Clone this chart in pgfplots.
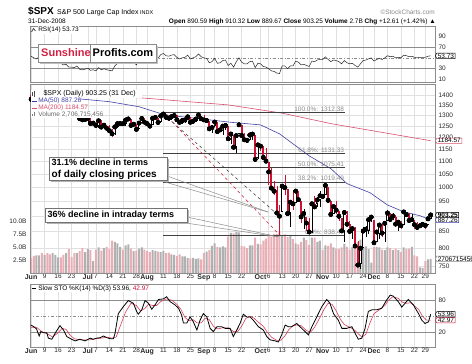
\documentclass[border=0pt]{standalone}
\usepackage{pgfplots}
\pgfplotsset{compat=1.18}
\usepackage{pgfplotstable}
\usepackage{fontspec}
\setmainfont{Liberation Sans}
\usetikzlibrary{shapes.symbols}

\definecolor{gridc}{HTML}{E0E0E0}
\definecolor{framec}{HTML}{8C8C8C}
\definecolor{candred}{HTML}{CC1133}
\definecolor{volred}{HTML}{E9AEB6}
\definecolor{volgrey}{HTML}{B0B0B0}
\definecolor{mablue}{HTML}{4040A8}
\definecolor{mared}{HTML}{D8506E}
\definecolor{sunred}{HTML}{D42042}
\definecolor{labgrey}{HTML}{8A8A8A}

\pgfplotstableread[row sep=\\]{
i o h l c v\\
0 1399.6 1399.6 1373.4 1377.7 2.9\\
1 1377.7 1387.6 1366.6 1377.2 3.3\\
2 1376.3 1388.2 1371.7 1377.2 3.4\\
3 1377.5 1405.1 1373.1 1404.1 3.4\\
4 1400.1 1400.1 1359.9 1360.7 3.8\\
5 1360.8 1366.8 1351.5 1361.8 3.5\\
6 1361.8 1370.6 1350.7 1358.4 3.8\\
7 1357.1 1357.1 1335.5 1335.5 3.6\\
8 1335.8 1353.0 1331.3 1339.9 3.8\\
9 1341.8 1360.0 1341.7 1360.0 3.5\\
10 1358.9 1370.7 1355.1 1360.1 3.0\\
11 1360.7 1366.6 1350.5 1350.9 3.0\\
12 1350.9 1351.0 1333.4 1337.8 3.5\\
13 1336.9 1347.1 1330.4 1342.8 3.8\\
14 1341.0 1341.0 1314.5 1317.9 4.6\\
15 1319.8 1323.8 1315.6 1318.0 3.1\\
16 1317.2 1328.9 1310.0 1314.3 3.8\\
17 1314.5 1335.6 1314.5 1322.0 3.8\\
18 1321.4 1321.4 1283.1 1283.2 4.2\\
19 1283.6 1290.3 1272.0 1278.4 4.8\\
20 1279.0 1290.7 1274.3 1280.0 4.0\\
21 1279.0 1285.3 1260.7 1284.9 4.6\\
22 1285.0 1285.7 1260.7 1261.5 4.4\\
23 1262.5 1272.0 1252.0 1262.9 2.3\\
24 1262.9 1273.9 1240.7 1252.3 4.5\\
25 1251.8 1274.2 1242.8 1273.7 4.9\\
26 1273.3 1277.4 1244.6 1244.7 4.3\\
27 1245.3 1257.6 1236.8 1253.4 4.8\\
28 1248.7 1254.0 1225.4 1239.5 5.0\\
29 1241.6 1253.5 1225.0 1228.3 4.6\\
30 1226.8 1234.4 1200.4 1214.9 6.2\\
31 1214.6 1246.0 1211.4 1245.4 6.0\\
32 1246.3 1262.3 1241.4 1260.3 5.7\\
33 1258.2 1262.2 1251.8 1260.7 5.0\\
34 1261.8 1267.7 1255.9 1260.0 4.5\\
35 1257.1 1277.4 1248.8 1277.0 5.3\\
36 1278.9 1291.2 1276.1 1282.2 5.5\\
37 1283.2 1283.2 1251.5 1252.5 4.7\\
38 1253.5 1263.2 1251.8 1257.8 4.2\\
39 1257.8 1260.1 1234.4 1234.4 4.3\\
40 1236.4 1264.4 1236.4 1263.2 4.7\\
41 1264.5 1284.3 1264.5 1284.3 4.9\\
42 1281.4 1284.9 1265.4 1267.4 4.5\\
43 1269.0 1270.5 1254.5 1260.3 4.2\\
44 1253.3 1260.5 1247.5 1249.0 4.0\\
45 1254.9 1284.9 1254.7 1284.9 4.4\\
46 1283.9 1291.7 1276.0 1289.2 4.2\\
47 1286.5 1286.5 1264.3 1266.1 4.1\\
48 1266.3 1297.9 1262.1 1296.3 4.0\\
49 1294.4 1313.2 1294.4 1305.3 4.2\\
50 1304.8 1304.8 1285.6 1289.6 3.8\\
51 1288.6 1294.0 1274.9 1285.8 3.9\\
52 1282.1 1300.1 1276.8 1292.9 3.6\\
53 1293.9 1302.1 1290.7 1298.2 3.5\\
54 1298.1 1300.2 1274.5 1278.6 3.3\\
55 1276.7 1276.7 1261.2 1266.7 3.6\\
56 1267.3 1276.0 1261.2 1274.5 3.2\\
57 1271.1 1281.3 1265.2 1277.7 3.2\\
58 1277.6 1293.1 1277.6 1292.2 2.9\\
59 1290.5 1290.5 1264.9 1266.8 2.8\\
60 1267.0 1275.7 1263.2 1271.5 2.9\\
61 1271.3 1289.6 1270.0 1281.7 2.7\\
62 1283.8 1300.7 1283.8 1300.7 2.8\\
63 1296.5 1297.6 1282.7 1282.8 2.6\\
64 1287.8 1303.0 1272.2 1277.6 3.8\\
65 1275.0 1280.6 1265.6 1275.0 4.1\\
66 1271.8 1271.8 1232.8 1236.8 4.4\\
67 1233.2 1244.9 1217.2 1242.3 5.2\\
68 1249.5 1274.4 1247.1 1267.8 5.7\\
69 1267.0 1268.7 1224.5 1224.5 5.0\\
70 1227.5 1243.9 1221.6 1232.0 4.9\\
71 1229.0 1249.0 1211.5 1249.1 5.1\\
72 1245.9 1255.1 1233.8 1251.7 4.9\\
73 1250.9 1250.9 1192.7 1192.7 7.0\\
74 1188.3 1214.8 1169.3 1213.6 7.7\\
75 1210.3 1210.3 1155.9 1156.4 7.6\\
76 1157.1 1211.6 1133.5 1206.5 7.9\\
77 1213.1 1265.3 1213.1 1255.1 7.8\\
78 1255.4 1255.5 1205.6 1207.1 5.2\\
79 1207.6 1219.4 1187.1 1188.2 5.1\\
80 1188.8 1197.4 1179.8 1185.9 4.8\\
81 1187.9 1221.0 1187.9 1209.2 5.3\\
82 1204.5 1215.8 1187.5 1213.3 5.3\\
83 1209.1 1209.1 1106.4 1106.4 6.8\\
84 1113.8 1167.0 1106.5 1166.4 5.6\\
85 1164.2 1167.0 1140.8 1161.1 5.5\\
86 1160.6 1160.6 1111.4 1114.3 6.2\\
87 1115.2 1153.8 1098.1 1099.2 6.6\\
88 1097.6 1097.6 1007.9 1056.9 7.4\\
89 1057.6 1072.9 996.2 996.2 7.0\\
90 988.9 1021.1 970.4 984.9 7.5\\
91 988.4 1005.3 909.2 909.9 7.5\\
92 902.3 936.4 839.8 899.2 7.9\\
93 912.8 1006.9 912.8 1003.4 7.2\\
94 1009.0 1044.3 972.1 998.0 7.4\\
95 994.6 994.6 904.0 907.8 6.9\\
96 909.5 947.7 865.8 946.4 7.3\\
97 942.3 984.6 918.7 940.6 6.5\\
98 943.5 985.4 943.5 985.4 5.7\\
99 980.4 985.4 952.5 955.1 5.5\\
100 951.7 951.7 875.8 896.8 6.0\\
101 899.1 922.8 858.4 908.1 6.8\\
102 895.2 896.3 852.9 876.8 6.3\\
103 874.3 893.8 846.8 848.9 5.4\\
104 848.9 940.5 845.3 940.5 6.8\\
105 939.5 969.9 922.3 930.1 6.8\\
106 939.4 963.2 928.5 954.1 6.0\\
107 953.1 984.4 928.5 968.8 6.2\\
108 968.7 975.5 958.8 966.3 4.4\\
109 971.3 1007.5 971.3 1005.8 5.3\\
110 1001.8 1001.8 949.9 952.8 5.2\\
111 952.4 952.4 899.7 904.9 5.7\\
112 907.4 931.5 906.9 931.0 4.9\\
113 936.8 951.9 907.5 919.2 4.7\\
114 917.2 917.2 884.9 899.0 4.6\\
115 893.4 893.4 850.5 852.3 4.9\\
116 853.1 913.0 818.7 911.3 5.6\\
117 904.4 916.9 869.9 873.3 5.0\\
118 873.2 882.3 849.0 850.8 4.5\\
119 852.3 865.9 826.8 859.1 5.0\\
120 859.0 864.6 806.2 806.6 5.3\\
121 805.9 820.5 747.8 752.4 6.0\\
122 755.8 801.2 741.0 800.0 6.4\\
123 801.2 865.6 801.2 851.8 5.1\\
124 853.4 868.9 835.0 857.4 5.1\\
125 852.9 887.7 841.4 887.7 4.6\\
126 886.9 896.3 881.2 896.2 2.0\\
127 888.6 888.6 815.7 816.2 5.0\\
128 817.9 850.5 817.9 848.8 5.0\\
129 843.6 873.1 827.6 870.7 4.9\\
130 869.1 875.6 833.6 845.2 4.5\\
131 844.4 879.4 818.4 876.1 4.4\\
132 882.7 918.6 882.7 909.7 4.9\\
133 909.1 911.5 883.0 888.7 4.8\\
134 892.2 908.3 885.5 899.2 4.4\\
135 898.4 904.6 868.7 873.6 4.7\\
136 871.8 883.2 851.4 879.7 4.4\\
137 881.1 884.6 857.7 868.6 4.0\\
138 871.5 914.7 871.5 913.2 4.9\\
139 908.2 908.2 895.9 904.4 4.6\\
140 905.0 911.0 877.4 885.3 4.7\\
141 886.9 905.5 883.0 887.9 5.0\\
142 887.2 887.4 857.1 871.6 3.4\\
143 874.3 880.4 860.1 863.2 3.2\\
144 863.9 869.8 861.4 868.2 1.1\\
145 869.5 873.7 866.5 872.8 1.0\\
146 872.4 873.7 857.1 869.4 2.3\\
147 870.6 891.1 870.6 890.6 2.6\\
148 890.6 910.3 889.7 903.3 2.7\\
}\ohlc

\pgfplotstableread[row sep=\\]{
i p\\ 0 1405\\ 41 1385\\ 73 1350\\ 93 1310\\ 111 1261\\ 148 1184.57\\
}\matwo

\pgfplotstableread[row sep=\\]{
i p\\ 0 1375\\ 18 1380\\ 29 1366\\ 40 1341\\ 48 1308\\ 51 1300\\ 74 1267\\ 85 1255\\ 92 1215\\ 103 1121\\ 111 1070\\ 117 1013\\ 125.5 980\\ 132 937\\ 138 914\\ 144 901\\ 148 887.26\\
}\mafifty

\pgfplotstableread[row sep=\\]{
i r\\ 0 53\\ 1 50\\ 2 48\\ 3 52\\ 4 45\\ 5 45\\ 6 44\\ 7 39\\ 8 41\\ 9 44\\ 10 43\\ 11 40\\ 12 37\\ 13 38\\ 14 33\\ 15 33\\ 16 32\\ 17 35\\ 18 29\\ 19 28\\ 20 29\\
21 31\\ 22 27\\ 23 28\\ 24 26\\ 25 32\\ 26 28\\ 27 30\\ 28 28\\ 29 27\\ 30 26\\ 31 35\\ 32 40\\ 33 40\\ 34 40\\ 35 45\\ 36 47\\ 37 40\\ 38 42\\ 39 37\\ 40 45\\ 41 50\\ 42 46\\
43 44\\ 44 42\\ 45 52\\ 46 54\\ 47 49\\ 48 56\\ 49 58\\ 50 54\\ 51 53\\ 52 55\\ 53 56\\ 54 51\\ 55 48\\ 56 50\\ 57 51\\ 58 55\\ 59 48\\ 60 50\\ 61 52\\ 62 57\\ 63 52\\
64 50\\ 65 49\\ 66 41\\ 67 43\\ 68 49\\ 69 40\\ 70 41\\ 71 45\\ 72 46\\ 73 36\\ 74 40\\ 75 33\\ 76 43\\ 77 50\\ 78 42\\ 79 39\\ 80 39\\ 81 43\\ 82 44\\ 83 32\\ 84 40\\
85 39\\ 86 34\\ 87 33\\ 88 30\\ 89 26\\ 90 25\\ 91 22\\ 92 21\\ 93 35\\ 94 35\\ 95 30\\ 96 35\\ 97 35\\ 98 44\\ 99 42\\ 100 37\\ 101 38\\ 102 36\\ 103 34\\ 104 44\\ 105 43\\ 106 46\\ 107 47\\
108 47\\ 109 52\\ 110 47\\ 111 43\\ 112 46\\ 113 45\\ 114 43\\ 115 39\\ 116 45\\ 117 41\\ 118 39\\ 119 40\\ 120 36\\ 121 33\\ 122 39\\ 123 45\\ 124 46\\ 125 48\\ 126 50\\
127 44\\ 128 47\\ 129 49\\ 130 47\\ 131 50\\ 132 54\\ 133 52\\ 134 53\\ 135 50\\ 136 51\\ 137 50\\ 138 55\\ 139 54\\ 140 52\\ 141 53\\ 142 51\\ 143 50\\ 144 51\\ 145 51\\ 146 51\\ 147 53\\ 148 53.73\\
}\rsi

\pgfplotstableread[row sep=\\]{
i k\\ 0 34\\ 1 31\\ 2 27\\ 3 14\\ 3.6 22\\ 4.6 20\\ 5.8 20\\ 6.4 10\\ 7.7 8\\ 8.9 19\\ 10.7 33\\ 12 25\\ 13.2 13\\ 15 8\\ 16.3 5\\ 18.1 8\\ 20 5\\ 21.9 10\\ 23 8\\ 24.3 10\\ 25.6 11\\ 26.8 14\\ 28 11\\ 29.3 9\\ 30.5 9\\ 31.1 19\\ 32.3 55\\ 34.2 68\\ 36 79\\ 37.9 74\\ 39.1 59\\ 39.7 54\\ 41 62\\ 42.2 79\\ 43.5 74\\ 44.7 63\\ 45.9 71\\ 47.2 81\\ 49 82\\ 50.2 86\\ 51.5 77\\ 53.3 71\\ 54.6 65\\ 55.8 52\\ 56.4 38\\ 57.7 38\\ 58.9 49\\ 60.1 40\\ 61.4 25\\ 62.6 43\\ 63.8 55\\ 65.1 49\\ 66.3 28\\ 67.5 22\\ 68.8 31\\ 70.6 31\\ 71.9 28\\ 73.7 28\\ 74.9 13\\ 76.2 25\\ 77.4 37\\ 78.6 54\\ 79.9 49\\ 81.1 49\\ 82.3 43\\ 84.2 31\\ 86 25\\ 87.3 13\\ 88.5 7\\ 90.4 5\\ 91.6 3\\ 92.8 16\\ 94.1 34\\ 95.3 31\\ 96.5 31\\ 98.4 37\\ 99.6 31\\ 101.5 22\\ 102.7 16\\ 104 31\\ 105.8 49\\ 107.7 68\\ 109.5 81\\ 110.7 74\\ 112 55\\ 113.8 43\\ 115.1 28\\ 116.9 28\\ 118.8 31\\ 120 19\\ 121.2 8\\ 122.5 10\\ 123.7 28\\ 124.9 59\\ 126.2 62\\ 128 62\\ 129.9 65\\ 131.7 80\\ 133 89\\ 134.2 87\\ 136 77\\ 137.3 67\\ 138.5 74\\ 139.7 81\\ 141.6 71\\ 143.5 55\\ 144.7 43\\ 145.9 37\\ 147.2 40\\ 148 53.96\\
}\stok

\pgfplotstableread[row sep=\\]{
i d\\ 0 30\\ 2 30\\ 4 22\\ 6 18\\ 8 12\\ 10 20\\ 11.5 28\\ 13 26\\ 14.5 15\\ 16 9\\ 18 7\\ 20 7\\ 22 7\\ 24 9\\ 26 10\\ 28 12\\ 30 10\\ 31.5 12\\ 33 32\\ 35 58\\ 37 74\\ 39 70\\ 40.5 60\\ 42 64\\ 43.5 72\\ 45 70\\ 46.5 70\\ 48 77\\ 50 82\\ 52 80\\ 54 72\\ 55.5 63\\ 57 48\\ 58.5 42\\ 60 44\\ 61.5 38\\ 63 38\\ 64.5 47\\ 66 44\\ 67.5 32\\ 69 27\\ 71 29\\ 73 29\\ 75 22\\ 76.5 22\\ 78 32\\ 79.5 46\\ 81 50\\ 82.5 47\\ 84 40\\ 86 32\\ 87.5 21\\ 89 12\\ 91 6\\ 92.5 6\\ 94 14\\ 95.5 26\\ 97 33\\ 98.5 34\\ 100 33\\ 102 24\\ 103.5 21\\ 105 30\\ 107 48\\ 108.5 63\\ 110 74\\ 111.5 72\\ 113 60\\ 114.5 45\\ 116 35\\ 118 30\\ 119.5 26\\ 121 19\\ 122.5 12\\ 124 17\\ 125.5 38\\ 127 55\\ 129 62\\ 131 70\\ 132.5 80\\ 134 86\\ 136 83\\ 137.5 76\\ 139 74\\ 140.5 75\\ 142 69\\ 143.5 63\\ 145 50\\ 146.5 43\\ 148 42.97\\
}\stod

\newcommand{\tl}{\fontsize{6.5}{7}\selectfont}
\newcommand{\mo}[1]{\fontsize{7}{7}\selectfont\bfseries #1}

\pgfplotsset{
  panel/.style={
    scale only axis, width=405pt, xmin=-0.4, xmax=149.6,
    anchor=south west,
    axis line style={draw=framec, line width=0.5pt},
    major tick length=0pt,
    ticklabel style={font=\tl, text=black!85},
    /pgf/number format/assume math mode=true,
    xtick={0,5,10,15,21,24,29,34,39,43,49,54,59,64,68,73,78,85,88,93,98,103,108,113,118,123,127,132,137,142,146},
    grid style={draw=gridc, line width=0.4pt},
  },
  datelabels/.style={
    xticklabels={\mo{Jun},9,16,23,\mo{Jul},7,14,21,28,\mo{Aug},11,18,25,\mo{Sep},8,15,22,\mo{Oct},6,13,20,27,\mo{Nov},10,17,24,\mo{Dec},8,15,22,29},
    xticklabel style={inner sep=1pt},
  },
  pricey/.style={ymin=6.59441, ymax=7.28414},
}
\tikzset{
  tag/.style={signal, signal to=west, signal pointer angle=120, draw, fill=white,
    inner xsep=1pt, inner ysep=0.4pt, font=\tl, anchor=west, line width=0.5pt},
}

\begin{document}
\begin{tikzpicture}
\path[use as bounding box] (0pt,0pt) rectangle (472pt,364pt);

% ---------------- RSI panel
\begin{axis}[panel, at={(30pt,282pt)}, height=56pt, ymin=5.5, ymax=108.7,
  xmajorgrids, xticklabels={}, ytick={10,30,70,90}, yticklabel pos=right]
\addplot[framec, line width=0.5pt] coordinates {(-1,70) (151,70)};
\addplot[framec, line width=0.5pt] coordinates {(-1,30) (151,30)};
\addplot[framec, dash dot, line width=0.4pt] coordinates {(-1,50) (151,50)};
\addplot[black!85, line width=0.5pt] table[x=i, y=r]{\rsi};
\coordinate (rsitag) at (axis cs:149.6,53.73);
\end{axis}

% ---------------- price grid axis (log scale drawn as ln of price)
\begin{axis}[panel, datelabels, pricey, at={(30pt,91pt)}, height=189pt,
  ytick={6.62007,6.68461,6.74524,6.80239,6.85646,6.90776,6.95655,7.00307,7.04752,7.09008,7.13090,7.17012,7.20786,7.24423},
  yticklabels={750,800,850,900,950,1000,1050,1100,1150,1200,1250,1300,1350,1400},
  yticklabel pos=right, xmajorgrids, ymajorgrids]
\addplot[draw=none] coordinates {(0,6.9)};
\end{axis}

% ---------------- volume axis
\begin{axis}[panel, at={(30pt,91pt)}, height=189pt, ymin=0, ymax=36.3, xtick=\empty,
  ytick={2.5,5,7.5,10}, yticklabels={2.5B,5.0B,7.5B,10.0B}, yticklabel pos=left,
  axis line style={draw=none}]
\addplot[ybar, bar width=2.0pt, bar shift=0pt, fill=volred, draw=none]
  table[x=i, y expr={(\thisrow{c}<\thisrow{o})*\thisrow{v}}]{\ohlc};
\addplot[ybar, bar width=2.0pt, bar shift=0pt, fill=volgrey, draw=none]
  table[x=i, y expr={(1-(\thisrow{c}<\thisrow{o}))*\thisrow{v}}]{\ohlc};
\coordinate (voltag) at (axis cs:149.6,2.7067);
\end{axis}

% ---------------- price data axis
\begin{axis}[panel, pricey, at={(30pt,91pt)}, height=189pt, xtick=\empty, ytick=\empty]
\addplot[mared, line width=0.6pt] table[x=i, y expr={ln(\thisrow{p})}]{\matwo};
\addplot[mablue, line width=0.6pt] table[x=i, y expr={ln(\thisrow{p})}]{\mafifty};
% Fibonacci levels
\addplot[black!75, line width=0.5pt] coordinates {(49,7.17960) (116.3,7.17960)};
\addplot[black!75, line width=0.5pt] coordinates {(49,7.03115) (116.3,7.03115)};
\addplot[black!75, line width=0.5pt] coordinates {(49,6.98046) (116.3,6.98046)};
\addplot[black!75, line width=0.5pt] coordinates {(49,6.92706) (116.3,6.92706)};
\addplot[black!75, line width=0.5pt] coordinates {(49,6.73154) (116.3,6.73154)};
\node[anchor=south east, inner sep=0.8pt, text=labgrey, font=\tl] at (axis cs:116.3,7.17960) {100.0\%: 1312.38};
\node[anchor=south east, inner sep=0.8pt, text=labgrey, font=\tl] at (axis cs:116.3,7.03115) {61.8\%: 1131.33};
\node[anchor=south east, inner sep=0.8pt, text=labgrey, font=\tl] at (axis cs:116.3,6.98046) {50.0\%: 1075.41};
\node[anchor=south east, inner sep=0.8pt, text=labgrey, font=\tl] at (axis cs:116.3,6.92706) {38.2\%: 1019.49};
\node[anchor=south east, inner sep=0.8pt, text=labgrey, font=\tl] at (axis cs:116.3,6.73154) {0.0\%: 838.44};
% decline lines
\addplot[black!80, dashed, line width=0.5pt] coordinates {(49,7.17420) (92,6.80153)};
\addplot[candred, dashed, line width=0.5pt] coordinates {(49,7.18019) (92,6.73316)};
% wicks
\addplot[only marks, mark=none, error bars/.cd, y dir=both, y explicit, error mark=none,
  error bar style={draw=candred, line width=0.45pt}]
  table[x=i, y expr={ln(\thisrow{c})},
        y error plus expr={(\thisrow{c}<\thisrow{o})*(ln(\thisrow{h})-ln(\thisrow{c}))},
        y error minus expr={(\thisrow{c}<\thisrow{o})*(ln(\thisrow{c})-ln(\thisrow{l}))}]{\ohlc};
\addplot[only marks, mark=none, error bars/.cd, y dir=both, y explicit, error mark=none,
  error bar style={draw=black, line width=0.4pt}]
  table[x=i, y expr={ln(\thisrow{c})},
        y error plus expr={(1-(\thisrow{c}<\thisrow{o}))*(ln(\thisrow{h})-ln(\thisrow{c}))},
        y error minus expr={(1-(\thisrow{c}<\thisrow{o}))*(ln(\thisrow{c})-ln(\thisrow{l}))}]{\ohlc};
% bodies: down (filled red)
\addplot[only marks, mark=none, error bars/.cd, y dir=plus, y explicit, error mark=none,
  error bar style={draw=candred, line width=2.0pt}]
  table[x=i, y expr={ln(\thisrow{c})},
        y error plus expr={(\thisrow{c}<\thisrow{o})*(ln(\thisrow{o})-ln(\thisrow{c}))}]{\ohlc};
% bodies: up (hollow black)
\addplot[only marks, mark=none, error bars/.cd, y dir=minus, y explicit, error mark=none,
  error bar style={draw=black, line width=2.3pt}]
  table[x=i, y expr={ln(\thisrow{c})},
        y error minus expr={(1-(\thisrow{c}<\thisrow{o}))*(ln(\thisrow{c})-ln(\thisrow{o}))}]{\ohlc};
\addplot[only marks, mark=none, error bars/.cd, y dir=minus, y explicit, error mark=none,
  error bar style={draw=white, line width=1.1pt}]
  table[x=i, y expr={ln(\thisrow{c})+0.0012},
        y error minus expr={(1-(\thisrow{c}<\thisrow{o}))*max(ln(\thisrow{c})-ln(\thisrow{o})-0.0024,0)}]{\ohlc};
\coordinate (ma200tag) at (axis cs:149.6,7.07714);
\coordinate (closetag) at (axis cs:149.6,6.80600);
\coordinate (ma50tag) at (axis cs:149.6,6.78814);
\end{axis}

% ---------------- STO panel
\begin{axis}[panel, datelabels, at={(30pt,17pt)}, height=63pt, ymin=-6.2, ymax=109.4,
  xmajorgrids, ytick={20,80}, yticklabel pos=right]
\addplot[framec, line width=0.5pt] coordinates {(-1,80) (151,80)};
\addplot[framec, line width=0.5pt] coordinates {(-1,20) (151,20)};
\addplot[framec, dash dot, line width=0.4pt] coordinates {(-1,50) (151,50)};
\addplot[candred!80, line width=0.6pt] table[x=i, y=d]{\stod};
\addplot[black, line width=0.8pt] table[x=i, y=k]{\stok};
\coordinate (ktag) at (axis cs:149.6,53.96);
\coordinate (dtag) at (axis cs:149.6,42.97);
\end{axis}

% ---------------- value tags
\node[tag, draw=black] at (rsitag) {53.73};
\node[tag, draw=mared] at (ma200tag) {1184.57};
\node[tag, draw=mablue] at (ma50tag) {887.26};
\node[tag, draw=black, font=\tl\bfseries] at (closetag) {903.25};
\node[tag, draw=framec] at (voltag) {2706715456};
\node[tag, draw=candred] at (dtag) {42.97};
\node[tag, draw=black] at (ktag) {53.96};

\begin{scope}[x=1pt,y=1pt]
% ---------------- header
\node[anchor=base west, inner sep=0] at (28,349) {\fontsize{10}{10}\selectfont\bfseries \$SPX};
\node[anchor=base west, inner sep=0] at (57,349) {\fontsize{7}{7}\selectfont S\&P 500 Large Cap Index};
\node[anchor=base west, inner sep=0] at (140,349) {\fontsize{5.5}{6}\selectfont INDX};
\node[anchor=base east, inner sep=0, text=labgrey] at (435,349) {\fontsize{6.5}{7}\selectfont \textcopyright StockCharts.com};
\node[anchor=base west, inner sep=0] at (28,340) {\fontsize{6.5}{7}\selectfont 31-Dec-2008};
\node[anchor=base east, inner sep=0] at (436,340) {\fontsize{6.5}{7}\selectfont \textbf{Open} 890.59 \textbf{High} 910.32 \textbf{Low} 889.67 \textbf{Close} 903.25 \textbf{Volume} 2.7B \textbf{Chg} +12.61 (+1.42\%) ▲};

% ---------------- panel legends
\node[anchor=west, fill=white, inner sep=0.6pt, font=\tl] at (37.5,334) {RSI(14) 53.73};
\draw[black!70, line width=0.8pt] (31.5,332) -- (33.5,335.5) -- (35.5,333);

\node[anchor=west, fill=white, inner xsep=0.8pt, inner ysep=0.8pt, font=\fontsize{7}{7}\selectfont, minimum width=111pt] at (30.5,270) {\hspace{7pt}\$SPX (Daily) 903.25 (31 Dec)};
\node[anchor=west, fill=white, inner sep=0.6pt, font=\tl, minimum width=48pt, minimum height=7pt] at (30.5,263) {};
\node[anchor=west, inner sep=0.6pt, font=\tl, text=mablue] at (37.5,263) {MA(50) 887.26};
\node[anchor=west, fill=white, inner sep=0.6pt, font=\tl, minimum width=50pt, minimum height=7pt] at (30.5,256) {};
\node[anchor=west, inner sep=0.6pt, font=\tl, text=mared] at (37.5,256) {MA(200) 1184.57};
\node[anchor=west, fill=white, inner sep=0.6pt, font=\tl, minimum width=70pt, minimum height=7pt] at (30.5,249.5) {};
\node[anchor=west, inner sep=0.6pt, font=\tl, text=black!60] at (37.5,249.5) {Volume 2,706,715,456};
\draw[mablue, line width=0.8pt] (31.5,263) -- (37,263);
\draw[mared, line width=0.8pt] (31.5,256) -- (37,256);
\fill[black!70] (32,268) rectangle (33,272); \fill[black!70] (34,267) rectangle (35,273);
\fill[black!50] (32,247.5) rectangle (33,250); \fill[black!50] (34,247.5) rectangle (35,252);

\node[anchor=west, fill=white, inner sep=0.6pt, font=\tl] at (37.5,75.5) {Slow STO \%K(14) \%D(3) 53.96, \textcolor{candred}{42.97}};
\draw[black, line width=0.9pt] (31.5,75.5) -- (36,75.5);

% ---------------- SunshineProfits logo
\fill[black!25] (40,300) rectangle (158,318);
\draw[framec, fill=white, line width=0.5pt] (38,302) rectangle (156,320);
\draw[framec, line width=0.5pt] (90,302) -- (90,320);
\node[anchor=base west, inner sep=0, text=sunred] at (41,307) {\fontsize{11}{11}\selectfont\bfseries Sunshine};
\node[anchor=base west, inner sep=0] at (92.5,307) {\fontsize{11}{11}\selectfont\bfseries Profits.com};

% ---------------- annotation callouts
\draw[black!45, line width=0.5pt] (158,184) -- (268,152);
\draw[black!45, line width=0.5pt] (167,188) -- (268,152);
\draw[black!45, line width=0.5pt] (179,142) -- (279,127);
\draw[black!45, line width=0.5pt] (187,147) -- (279,127);

\fill[black!30] (51,182) rectangle (169,205);
\draw[black!55, fill=white, line width=0.5pt] (49,184) rectangle (167,207);
\node[anchor=north west, inner sep=0, align=left] at (51.5,205) {\fontsize{9}{10.5}\selectfont\bfseries 31.1\% decline in terms\\ \bfseries of daily closing prices};

\fill[black!30] (47,140) rectangle (189,154);
\draw[black!55, fill=white, line width=0.5pt] (45,142) rectangle (187,156);
\node[anchor=west, inner sep=0] at (47.5,149) {\fontsize{9}{10}\selectfont\bfseries 36\% decline in intraday terms};
\end{scope}

\end{tikzpicture}
\end{document}
